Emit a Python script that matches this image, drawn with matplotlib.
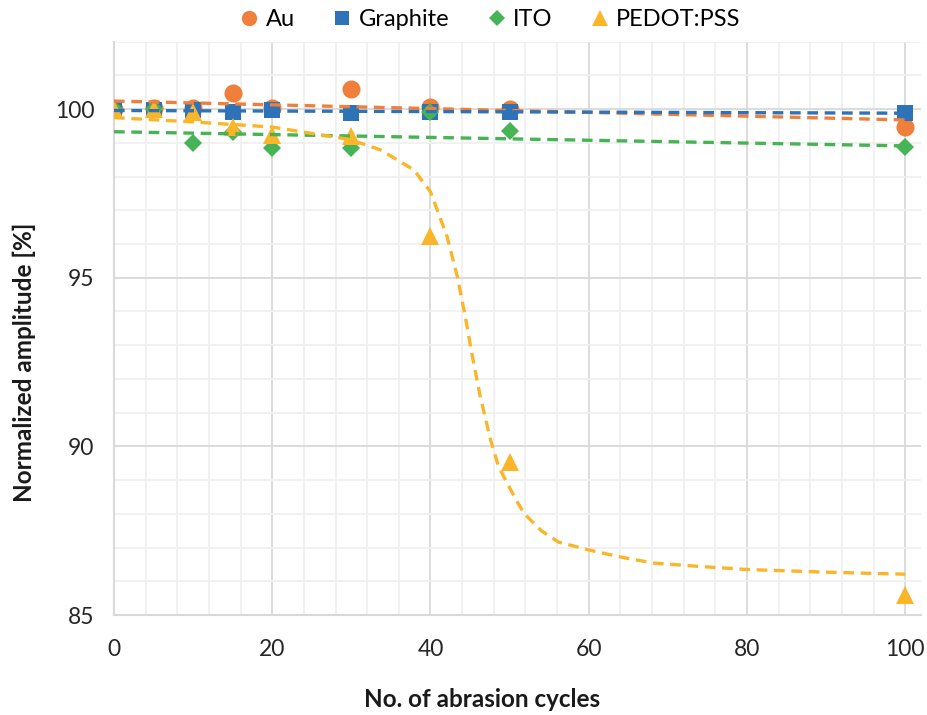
import matplotlib
matplotlib.use("Agg")
import matplotlib.pyplot as plt
from matplotlib.ticker import MultipleLocator
from matplotlib.lines import Line2D

plt.rcParams['font.family'] = ['Lato', 'DejaVu Sans']

# ---- data ----
cycles = [0, 5, 10, 15, 20, 30, 40, 50, 100]
au = [100.0, 100.02, 100.03, 100.47, 100.03, 100.59, 100.05, 100.0, 99.48]
graphite = [100.0, 99.96, 99.96, 99.91, 99.96, 99.9, 99.91, 99.91, 99.88]
ito = [100.0, 100.0, 98.99, 99.33, 98.84, 98.84, 99.91, 99.35, 98.87]
pedot = [100.0, 100.0, 99.93, 99.48, 99.24, 99.2, 96.24, 89.54, 85.58]

# trend lines
trend_x = [0, 100]
au_trend = [100.24, 99.68]
graphite_trend = [99.96, 99.88]
ito_trend = [99.33, 98.91]
pedot_trend_x = [0, 10, 20, 30, 33.7, 37.9, 40, 42.1, 43.4, 44.4, 45.3, 46.3, 47.6,
                 48.6, 50.6, 51.8, 54, 56.2, 60, 64, 68.2, 74, 80, 90, 100]
pedot_trend_y = [99.75, 99.62, 99.47, 99.09, 98.79, 98.2, 97.55, 96.22, 95.03, 93.85,
                 92.66, 91.47, 90.19, 89.4, 88.51, 88.02, 87.5, 87.16, 86.93, 86.72,
                 86.54, 86.44, 86.35, 86.27, 86.21]

labels = ['Au', 'Graphite', 'ITO', 'PEDOT:PSS']
colors = ['#F07F3C', '#2E73B8', '#46B354', '#FBB528']
markers = ['o', 's', 'D', '^']
msizes = [13, 12, 9.5, 13]

fig = plt.figure(figsize=(9.28, 7.15), dpi=100)
ax = fig.add_axes([114/928, 1-615/715, (921-114)/928, (615-41.7)/715])

series = [au, graphite, ito, pedot]
for ys, c, m, s, lab in zip(series, colors, markers, msizes, labels):
    ax.plot(cycles, ys, linestyle='none', marker=m, markersize=s, color=c,
            markeredgewidth=0, label=lab, zorder=3)

dash = (3.2, 2.0)
lw = 2.4
ax.plot(trend_x, au_trend, color=colors[0], lw=lw, dashes=dash, zorder=4)
ax.plot(trend_x, graphite_trend, color=colors[1], lw=lw, dashes=dash, zorder=4)
ax.plot(trend_x, ito_trend, color=colors[2], lw=lw, dashes=dash, zorder=4)
ax.plot(pedot_trend_x, pedot_trend_y, color=colors[3], lw=lw, dashes=dash, zorder=4)

ax.set_xlim(0, 102)
ax.set_ylim(85, 102)
ax.xaxis.set_major_locator(MultipleLocator(20))
ax.xaxis.set_minor_locator(MultipleLocator(4))
ax.yaxis.set_major_locator(MultipleLocator(5))
ax.yaxis.set_minor_locator(MultipleLocator(1))
ax.grid(which='major', color='#D9D9D9', lw=1.3, zorder=0)
ax.grid(which='minor', color='#F0F0F0', lw=1.3, zorder=0)
ax.set_axisbelow(True)
for sp in ['top', 'right']:
    ax.spines[sp].set_visible(False)
for sp in ['left', 'bottom']:
    ax.spines[sp].set_color('#D9D9D9')
    ax.spines[sp].set_linewidth(1.5)
ax.tick_params(which='both', length=0)
ax.tick_params(axis='x', labelsize=16.5, pad=17, colors='#262626')
ax.tick_params(axis='y', labelsize=16.5, pad=14, colors='#262626')

ax.set_xlabel('No. of abrasion cycles', fontsize=17.5, fontweight='bold', color='#1a1a1a')
ax.set_ylabel('Normalized amplitude [%]', fontsize=17.5, fontweight='bold', color='#1a1a1a')
ax.xaxis.set_label_coords(0.456, -0.128)
ax.yaxis.set_label_coords(-0.097, 0.44)

handles = [Line2D([], [], linestyle='none', marker=m, markersize=s*0.85, color=c,
                  markeredgewidth=0) for m, s, c in zip(markers, msizes, colors)]
fig.legend(handles, labels, loc='center', bbox_to_anchor=(488/928, 1-20/715), ncol=4,
           frameon=False, fontsize=17, handletextpad=0.1, columnspacing=1.4,
           handlelength=1.2, borderaxespad=0)

fig.savefig('out.png', dpi=100)
